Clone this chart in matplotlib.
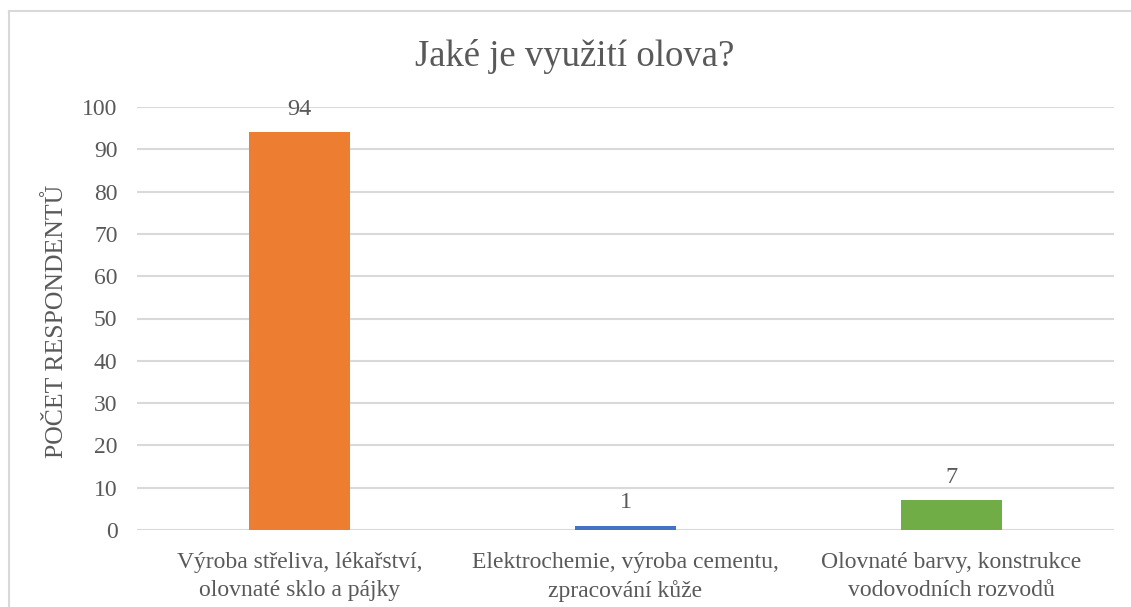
import matplotlib
matplotlib.use("Agg")
import matplotlib.pyplot as plt
from matplotlib.lines import Line2D

categories = [
    "Výroba střeliva, lékařství,\nolovnaté sklo a pájky",
    "Elektrochemie, výroba cementu,\nzpracování kůže",
    "Olovnaté barvy, konstrukce\nvodovodních rozvodů",
]
values = [94, 1, 7]
colors = ["#ED7D31", "#4472C4", "#70AD47"]
yticks = [0, 10, 20, 30, 40, 50, 60, 70, 80, 90, 100]
title = "Jaké je využití olova?"
ylabel = "POČET RESPONDENTŮ"

plt.rcParams["font.family"] = ["Liberation Serif", "DejaVu Serif"]
text_color = "#595959"
grid_color = "#D9D9D9"

W, H = 1131, 607
fig = plt.figure(figsize=(W / 100, H / 100), dpi=100)
fig.patch.set_facecolor("white")

# Chart area frame (left and top edges visible)
fig.add_artist(Line2D([8.5 / W, 8.5 / W], [0, 1 - 11 / H], transform=fig.transFigure,
                      color=grid_color, lw=1.5))
fig.add_artist(Line2D([8.5 / W, 1], [1 - 11 / H, 1 - 11 / H], transform=fig.transFigure,
                      color=grid_color, lw=1.5))

left, right = 137 / W, 1114 / W
bottom, top = 1 - 530 / H, 1 - 107 / H
ax = fig.add_axes([left, bottom, right - left, top - bottom])

x = list(range(len(categories)))
bars = ax.bar(x, values, width=0.31, color=colors, zorder=3)
ax.set_xlim(-0.5, len(categories) - 0.5)
ax.set_ylim(0, 100)
ax.set_yticks(yticks)
ax.set_yticklabels([str(t) for t in yticks], fontsize=17, color=text_color)
ax.set_xticks(x)
ax.set_xticklabels(categories, fontsize=17, color=text_color, linespacing=1.45)
ax.tick_params(axis="both", length=0)
ax.tick_params(axis="y", pad=14)
ax.tick_params(axis="x", pad=15.5)

ax.grid(axis="y", color=grid_color, lw=1.5, zorder=0)
for s in ax.spines.values():
    s.set_visible(False)

for b, v in zip(bars, values):
    ax.annotate(str(v), (b.get_x() + b.get_width() / 2, v), xytext=(0, 9),
                textcoords="offset points", ha="center", va="bottom",
                fontsize=17.5, color=text_color, zorder=4)

fig.text(575 / W, 1 - 57 / H, title, ha="center", va="center",
         fontsize=26.5, color=text_color)
fig.text(57 / W, 1 - 321 / H, ylabel, ha="center", va="center", rotation=90,
         fontsize=18.5, color=text_color)

fig.savefig("out.png", dpi=100, facecolor="white")
